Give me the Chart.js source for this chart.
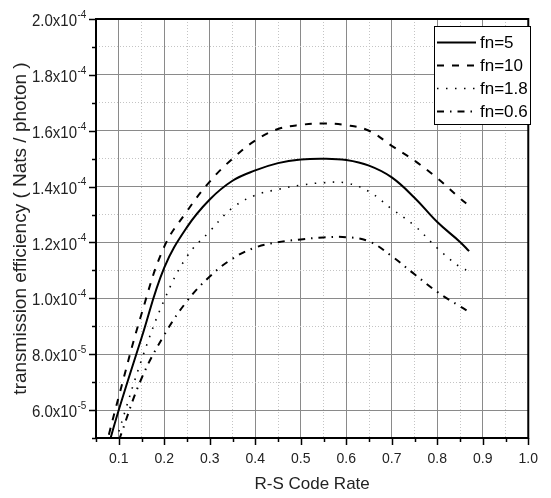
<!DOCTYPE html>
<html><head><meta charset="utf-8">
<script src="https://cdn.jsdelivr.net/npm/chart.js@4/dist/chart.umd.min.js"></script>
<style>html,body{margin:0;padding:0;background:#fff;}#wrap{width:551px;height:498px;}</style>
</head><body><div id="wrap"><canvas id="c" width="551" height="498"></canvas></div>
<script>
// ---- data ----
const codeRates = [0.07, 0.10, 0.15, 0.20, 0.25, 0.30, 0.35, 0.40, 0.45, 0.50, 0.55, 0.60, 0.65, 0.70, 0.75, 0.80, 0.85, 0.87];
const fn5  = [0.43e-4, 0.600e-4, 0.858e-4, 1.110e-4, 1.255e-4, 1.354e-4, 1.421e-4, 1.458e-4, 1.484e-4, 1.497e-4, 1.500e-4, 1.495e-4, 1.475e-4, 1.433e-4, 1.360e-4, 1.273e-4, 1.202e-4, 1.169e-4];
const fn10 = [0.46e-4, 0.648e-4, 0.944e-4, 1.185e-4, 1.312e-4, 1.418e-4, 1.500e-4, 1.565e-4, 1.606e-4, 1.621e-4, 1.626e-4, 1.620e-4, 1.600e-4, 1.546e-4, 1.493e-4, 1.430e-4, 1.358e-4, 1.332e-4];
const fn18 = [0.37e-4, 0.523e-4, 0.779e-4, 0.994e-4, 1.150e-4, 1.240e-4, 1.324e-4, 1.369e-4, 1.390e-4, 1.405e-4, 1.414e-4, 1.413e-4, 1.382e-4, 1.320e-4, 1.260e-4, 1.180e-4, 1.112e-4, 1.098e-4];
const fn06 = [0.355e-4, 0.490e-4, 0.713e-4, 0.869e-4, 0.990e-4, 1.078e-4, 1.142e-4, 1.182e-4, 1.201e-4, 1.211e-4, 1.218e-4, 1.219e-4, 1.204e-4, 1.151e-4, 1.086e-4, 1.023e-4, 0.971e-4, 0.951e-4];
const seriesLabels = ['fn=5', 'fn=10', 'fn=1.8', 'fn=0.6'];
const xTickLabels = ['0.1','0.2','0.3','0.4','0.5','0.6','0.7','0.8','0.9','1.0'];
const yTickValues = [6e-5, 8e-5, 1.0e-4, 1.2e-4, 1.4e-4, 1.6e-4, 1.8e-4, 2.0e-4];
const yTickMantissa = ['6.0x10','8.0x10','1.0x10','1.2x10','1.4x10','1.6x10','1.8x10','2.0x10'];
const yTickExponent = ['-5','-5','-4','-4','-4','-4','-4','-4'];
const xTitle = 'R-S Code Rate';
const yTitle = 'transmission efficiency ( Nats / photon )';

const FONT = "'Liberation Sans', Arial, Helvetica, sans-serif";
const dashes = [[], [7, 8], [1.5, 7.5], [7, 6, 1.5, 6]];
const widths = [2, 2, 1.6, 2];
const seriesData = [fn5, fn10, fn18, fn06];

const isMajorX = v => Math.round(v / 0.05) % 2 === 0;
const isMajorY = v => Math.round(v / 1e-5) % 2 === 0;

const decor = {
  id: 'decor',
  afterDraw(chart) {
    const {ctx, chartArea: a, scales: {x, y}} = chart;
    ctx.save();
    ctx.strokeStyle = '#000';
    ctx.lineWidth = 1.5;
    ctx.setLineDash([]);
    x.ticks.forEach(t => {
      const px = Math.round(x.getPixelForValue(t.value)) + 0.5;
      const len = isMajorX(t.value) ? 7 : 4;
      ctx.beginPath(); ctx.moveTo(px, a.bottom); ctx.lineTo(px, a.bottom + len); ctx.stroke();
    });
    y.ticks.forEach(t => {
      const py = Math.round(y.getPixelForValue(t.value)) + 0.5;
      const len = isMajorY(t.value) ? 7 : 4;
      ctx.beginPath(); ctx.moveTo(a.left, py); ctx.lineTo(a.left - len, py); ctx.stroke();
    });
    ctx.lineWidth = 2;
    ctx.strokeRect(a.left, a.top, a.right - a.left, a.bottom - a.top);
    ctx.fillStyle = '#222';
    yTickValues.forEach((v, i) => {
      const py = y.getPixelForValue(v);
      const xEnd = a.left - 19;
      ctx.save();
      ctx.translate(xEnd, py + 2.5);
      ctx.scale(1, 1.12);
      ctx.font = '15px ' + FONT;
      ctx.textAlign = 'right';
      ctx.textBaseline = 'middle';
      ctx.fillText(yTickMantissa[i], 0, 0);
      ctx.font = '10px ' + FONT;
      ctx.textAlign = 'left';
      ctx.fillText(yTickExponent[i], 0.5, -6);
      ctx.restore();
    });
    const lx = 434, ly = 26, lw = 96, lh = 98;
    ctx.fillStyle = '#fff';
    ctx.fillRect(lx, ly, lw, lh);
    ctx.lineWidth = 1;
    ctx.strokeStyle = '#000';
    ctx.strokeRect(lx + 0.5, ly + 0.5, lw, lh);
    ctx.font = '17px ' + FONT;
    ctx.textAlign = 'left';
    ctx.textBaseline = 'middle';
    seriesLabels.forEach((lab, i) => {
      const cy = ly + 16.5 + i * 23;
      ctx.save();
      ctx.lineWidth = widths[i];
      ctx.setLineDash(dashes[i]);
      ctx.beginPath(); ctx.moveTo(lx + 3, cy); ctx.lineTo(lx + 42, cy); ctx.stroke();
      ctx.restore();
      ctx.fillStyle = '#000';
      ctx.fillText(lab, lx + 46, cy + 1);
    });
    ctx.restore();
  }
};

const datasets = seriesData.map((d, i) => ({
  label: seriesLabels[i],
  data: codeRates.map((r, j) => ({x: r, y: d[j]})),
  borderColor: '#000',
  borderWidth: widths[i],
  borderDash: dashes[i],
  pointRadius: 0,
  fill: false,
  tension: 0.4
}));

new Chart(document.getElementById('c'), {
  type: 'line',
  data: {datasets},
  plugins: [decor],
  options: {
    responsive: false,
    animation: false,
    devicePixelRatio: 1,
    layout: {padding: {left: 0, right: 9, top: 19, bottom: 0}},
    plugins: {legend: {display: false}, tooltip: {enabled: false}},
    scales: {
      x: {
        type: 'linear', min: 0.05, max: 1.0,
        afterFit: s => { s.height = 60; },
        border: {display: false, dash: ctx => (ctx.tick && !isMajorX(ctx.tick.value)) ? [1, 2] : []},
        grid: {
          drawTicks: false,
          color: ctx => (ctx.tick && isMajorX(ctx.tick.value)) ? '#8a8a8a' : '#c4c4c4',
          lineWidth: 1
        },
        ticks: {
          stepSize: 0.05, maxTicksLimit: 100, autoSkip: false, maxRotation: 0,
          padding: 13, color: '#222',
          font: {family: FONT, size: 14},
          callback: v => isMajorX(v) ? xTickLabels[Math.round(v * 10) - 1] : ''
        },
        title: {display: true, text: xTitle, color: '#222', font: {family: FONT, size: 17}, padding: {top: 0, bottom: 3}}
      },
      y: {
        type: 'linear', min: 5e-5, max: 2e-4,
        afterFit: s => { s.width = 96; },
        border: {display: false, dash: ctx => (ctx.tick && !isMajorY(ctx.tick.value)) ? [1, 2] : []},
        grid: {
          drawTicks: false,
          color: ctx => (ctx.tick && isMajorY(ctx.tick.value)) ? '#8a8a8a' : '#c4c4c4',
          lineWidth: 1
        },
        ticks: {stepSize: 1e-5, maxTicksLimit: 100, autoSkip: false, callback: () => ''},
        title: {display: true, text: yTitle, color: '#222', font: {family: FONT, size: 19}, padding: {top: 9, bottom: 0}}
      }
    }
  }
});
</script></body></html>
